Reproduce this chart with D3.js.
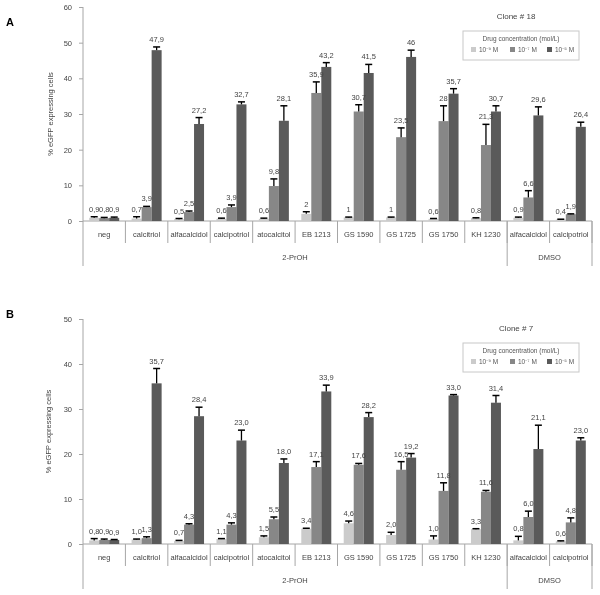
<!DOCTYPE html>
<html>
<head>
<meta charset="utf-8">
<script src="https://cdn.jsdelivr.net/npm/d3@7"></script>
<style>
  body { margin: 0; background: #fff; }
  svg { will-change: transform; }
  text { font-family: "Liberation Sans", Arial, sans-serif; }
</style>
</head>
<body>
<script>
// categories and groups (shared by both panels)
const categories = ["neg", "calcitriol", "alfacalcidol", "calcipotriol", "atocalcitol",
  "EB 1213", "GS 1590", "GS 1725", "GS 1750", "KH 1230", "alfacalcidol", "calcipotriol"];
const groupNames = ["2-PrOH", "DMSO"];
const groupSizes = [10, 2];
const concLabels = ["10⁻⁹ M", "10⁻⁷ M", "10⁻⁵ M"];
const concColors = ["#cbcbcb", "#878787", "#5a5a5a"];

// panel A, clone #18
const aLow  = [0.9, 0.7, 0.5, 0.6, 0.6, 2, 1, 1, 0.6, 0.8, 0.9, 0.4];
const aMid  = [0.8, 3.9, 2.5, 3.9, 9.8, 35.9, 30.7, 23.5, 28, 21.3, 6.6, 1.9];
const aHigh = [0.9, 47.9, 27.2, 32.7, 28.1, 43.2, 41.5, 46, 35.7, 30.7, 29.6, 26.4];
const aLowErr  = [0.3, 0.5, 0.2, 0.2, 0.2, 0.6, 0.1, 0.1, 0.1, 0.1, 0.2, 0.1];
const aMidErr  = [0.2, 0.2, 0.3, 0.6, 2.0, 3.1, 1.9, 2.6, 4.3, 5.8, 1.9, 0.1];
const aHighErr = [0.2, 0.9, 1.8, 0.7, 4.2, 1.2, 2.4, 1.9, 1.4, 1.6, 2.4, 1.3];
const aTicks = [0, 10, 20, 30, 40, 50, 60];

// panel B, clone #7
const bLow  = [0.8, 1.0, 0.7, 1.1, 1.5, 3.4, 4.6, 2.0, 1.0, 3.3, 0.8, 0.6];
const bMid  = [0.9, 1.3, 4.3, 4.3, 5.5, 17.1, 17.6, 16.5, 11.8, 11.6, 6.0, 4.8];
const bHigh = [0.9, 35.7, 28.4, 23.0, 18.0, 33.9, 28.2, 19.2, 33.0, 31.4, 21.1, 23.0];
const bLowErr  = [0.4, 0.1, 0.1, 0.1, 0.3, 0.1, 0.5, 0.6, 0.8, 0.1, 0.9, 0.1];
const bMidErr  = [0.2, 0.3, 0.2, 0.4, 0.5, 1.2, 0.3, 1.8, 1.8, 0.3, 1.3, 1.0];
const bHighErr = [0.1, 3.3, 2.0, 2.3, 0.9, 1.4, 1.0, 0.9, 0.2, 1.6, 5.3, 0.6];
const bTicks = [0, 10, 20, 30, 40, 50];

const svg = d3.select("body").append("svg")
  .attr("width", 600)
  .attr("height", 595);

function drawPanel(p) {
  const g = svg.append("g");
  const y = d3.scaleLinear().domain([0, p.max]).range([p.y0, p.yTop]);
  const x = d3.scaleBand().domain(d3.range(categories.length)).range([83, 592]);
  const bw = x.bandwidth();
  const xs = d3.scaleBand().domain([0, 1, 2]).range([(bw - 30) / 2, (bw + 30) / 2]);
  const axisColor = "#a6a6a6";

  // panel letter
  g.append("text").attr("x", 6).attr("y", p.letterY)
    .attr("font-size", 11).attr("font-weight", "bold").text(p.letter);

  // y axis
  const yAxis = g.append("g").attr("transform", "translate(83,0)")
    .call(d3.axisLeft(y).tickValues(p.ticks).tickSize(4).tickPadding(7));
  yAxis.select(".domain").remove();
  yAxis.selectAll("line").attr("stroke", axisColor);
  yAxis.selectAll("text").attr("font-size", 7.5).attr("fill", "#444")
    .attr("font-family", "Liberation Sans, Arial, sans-serif");
  g.append("line").attr("x1", 83).attr("x2", 83)
    .attr("y1", p.yTop).attr("y2", p.y0 + 45).attr("stroke", axisColor);

  g.append("text")
    .attr("transform", `translate(${p.titleX},${(p.yTop + p.y0) / 2}) rotate(-90)`)
    .attr("text-anchor", "middle").attr("font-size", 7.5).attr("fill", "#444")
    .text("% eGFP expressing cells");

  // x axis with category dividers
  g.append("line").attr("x1", 83).attr("x2", 592)
    .attr("y1", p.y0).attr("y2", p.y0).attr("stroke", axisColor);
  g.selectAll(".sep").data(d3.range(1, categories.length + 1)).join("line")
    .attr("x1", i => x(0) + i * bw).attr("x2", i => x(0) + i * bw)
    .attr("y1", p.y0).attr("y2", p.y0 + 22).attr("stroke", axisColor);
  g.selectAll(".cat").data(categories).join("text")
    .attr("x", (d, i) => x(i) + bw / 2).attr("y", p.y0 + 16)
    .attr("text-anchor", "middle").attr("font-size", 7.5).attr("fill", "#444")
    .text(d => d);

  // group dividers and labels
  let start = 0;
  groupNames.forEach((name, k) => {
    const end = start + groupSizes[k];
    const xr = x(0) + end * bw;
    g.append("line").attr("x1", xr).attr("x2", xr)
      .attr("y1", p.y0).attr("y2", p.y0 + 45).attr("stroke", axisColor);
    g.append("text").attr("x", (x(start) + xr) / 2).attr("y", p.y0 + 39)
      .attr("text-anchor", "middle").attr("font-size", 7.5).attr("fill", "#444")
      .text(name);
    start = end;
  });

  // bars and error bars
  const labelLayer = [];
  p.series.forEach((vals, s) => {
    const errs = p.errors[s];
    const sg = g.append("g");
    sg.selectAll("rect").data(vals).join("rect")
      .attr("x", (d, i) => x(i) + xs(s)).attr("width", xs.bandwidth())
      .attr("y", d => y(d)).attr("height", d => p.y0 - y(d))
      .attr("fill", concColors[s]);
    const cx = i => x(i) + xs(s) + xs.bandwidth() / 2;
    sg.selectAll(".err").data(vals).join("line")
      .attr("x1", (d, i) => cx(i)).attr("x2", (d, i) => cx(i))
      .attr("y1", d => y(d)).attr("y2", (d, i) => y(d + errs[i]))
      .attr("stroke", "#000").attr("stroke-width", 1.3);
    sg.selectAll(".cap").data(vals).join("line")
      .attr("x1", (d, i) => cx(i) - 3.5).attr("x2", (d, i) => cx(i) + 3.5)
      .attr("y1", (d, i) => y(d + errs[i])).attr("y2", (d, i) => y(d + errs[i]))
      .attr("stroke", "#000").attr("stroke-width", 1.5);
    vals.forEach((d, i) => labelLayer.push({ x: cx(i), y: y(d + errs[i]) - 5, t: p.fmt(d) }));
  });

  // value labels on top of all bars
  g.append("g").selectAll("text").data(labelLayer).join("text")
    .attr("x", d => d.x).attr("y", d => d.y)
    .attr("text-anchor", "middle").attr("font-size", 7.5).attr("fill", "#444")
    .text(d => d.t);

  // legend
  g.append("text").attr("x", 516).attr("y", p.legY - 12)
    .attr("text-anchor", "middle").attr("font-size", 8).attr("fill", "#444")
    .text(p.clone);
  g.append("rect").attr("x", 463).attr("y", p.legY)
    .attr("width", 116).attr("height", 29)
    .attr("fill", "#fff").attr("stroke", "#c8c8c8");
  g.append("text").attr("x", 521).attr("y", p.legY + 10)
    .attr("text-anchor", "middle").attr("font-size", 6.5).attr("fill", "#555")
    .text("Drug concentration (mol/L)");
  const legX = [471, 510, 547];
  concLabels.forEach((lab, s) => {
    g.append("rect").attr("x", legX[s]).attr("y", p.legY + 16)
      .attr("width", 5).attr("height", 5).attr("fill", concColors[s]);
    g.append("text").attr("x", legX[s] + 8).attr("y", p.legY + 21)
      .attr("font-size", 6.5).attr("fill", "#555").text(lab);
  });
}

drawPanel({
  letter: "A", letterY: 26, y0: 221, yTop: 7, max: 60, ticks: aTicks, titleX: 53,
  series: [aLow, aMid, aHigh], errors: [aLowErr, aMidErr, aHighErr],
  fmt: v => String(v).replace(".", ","), clone: "Clone # 18", legY: 31
});

drawPanel({
  letter: "B", letterY: 318, y0: 544, yTop: 319, max: 50, ticks: bTicks, titleX: 51,
  series: [bLow, bMid, bHigh], errors: [bLowErr, bMidErr, bHighErr],
  fmt: v => v.toFixed(1).replace(".", ","), clone: "Clone # 7", legY: 343
});
</script>
</body>
</html>
